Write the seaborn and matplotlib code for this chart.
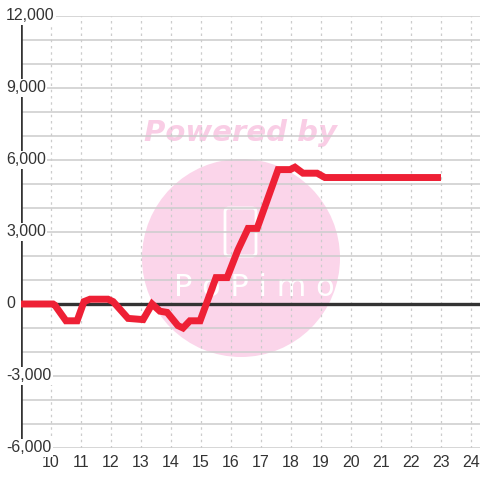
import matplotlib
matplotlib.use("Agg")
import matplotlib.pyplot as plt
from matplotlib.patches import Circle, FancyBboxPatch
from matplotlib.transforms import blended_transform_factory
import seaborn as sns

# hours (decimal) and value at each vertex of the line
times = [9.0, 10.07, 10.13, 10.5, 10.87, 11.1, 11.3, 11.9, 12.07, 12.57,
         13.07, 13.37, 13.63, 13.87, 14.23, 14.4, 14.63, 14.97, 15.5, 15.87,
         16.23, 16.57, 16.87, 17.57, 17.97, 18.13, 18.4, 18.87, 19.13, 23.0]
values = [0, 0, -50, -700, -700, 100, 200, 200, 100, -600,
          -650, 0, -300, -350, -900, -1000, -700, -700, 1100, 1100,
          2250, 3150, 3150, 5600, 5600, 5700, 5450, 5450, 5270, 5270]

x_ticks = list(range(10, 25))
y_ticks = [-6000, -3000, 0, 3000, 6000, 9000, 12000]
y_labels = ["-6,000", "-3,000", "0", "3,000", "6,000", "9,000", "12,000"]

sns.set_style("white")
plt.rcParams["font.family"] = ["Liberation Sans", "DejaVu Sans"]

fig = plt.figure(figsize=(4.8, 4.8), dpi=100)
ax = fig.add_axes([21 / 480, 32 / 480, 459 / 480, 432 / 480])

# watermark, drawn below the grid
wm = "#fbd5ea"
ax.add_patch(Circle((241 / 480, 1 - 258 / 480), 99 / 480, transform=fig.transFigure,
                    color=wm, zorder=0.8, clip_on=False, lw=0))
ax.text(241 / 480, 1 - 133 / 480, "Powered by", transform=fig.transFigure,
        ha="center", va="center", fontsize=21, fontweight="bold", style="italic",
        color="#f9cde5", family=["DejaVu Sans"], zorder=0.9)
ax.text(254 / 480, 1 - 287 / 480, "P o P i m o", transform=fig.transFigure,
        ha="center", va="center", fontsize=22, color="white",
        family=["DejaVu Sans"], zorder=0.9)
ax.add_patch(FancyBboxPatch((225 / 480, 1 - 256 / 480), 31 / 480, 48 / 480,
                            boxstyle="round,pad=0,rounding_size=0.008",
                            transform=fig.transFigure, fill=False, ec="white",
                            lw=2, zorder=0.9, clip_on=False))

# grid
for y in range(-6000, 12001, 1000):
    ax.axhline(y, color="#cccccc", lw=1.1, zorder=1.5)
for x in x_ticks:
    ax.axvline(x, color="#cccccc", lw=0.9, ls=(0, (2, 3)), zorder=1.5)
ax.axhline(0, color="#333333", lw=2.4, zorder=2)
ax.axvline(9.0, color="#333333", lw=2.6, zorder=2)

sns.lineplot(x=times, y=values, ax=ax, color="#ee2035", linewidth=5.0,
             zorder=3, solid_joinstyle="miter", solid_capstyle="butt")

ax.set_xlim(9.0, 24.3)
ax.set_ylim(-6000, 12000)
for s in ax.spines.values():
    s.set_visible(False)

ax.set_xticks(x_ticks)
ax.set_xticklabels([str(x) for x in x_ticks])
ax.tick_params(axis="x", length=0, pad=5, labelsize=11.5, labelcolor="#333333")
ax.set_yticks([])
ax.set_xlabel("")
ax.set_ylabel("")

lab_tr = blended_transform_factory(fig.transFigure, ax.transData)
for y, lab in zip(y_ticks, y_labels):
    ax.text(6 / 480, y, lab, transform=lab_tr,
            ha="left", va="center", fontsize=11.5, color="#333333", zorder=5,
            clip_on=False,
            bbox=dict(boxstyle="square,pad=0.1", fc="white", ec="none"))

fig.savefig("out.png", dpi=100)
